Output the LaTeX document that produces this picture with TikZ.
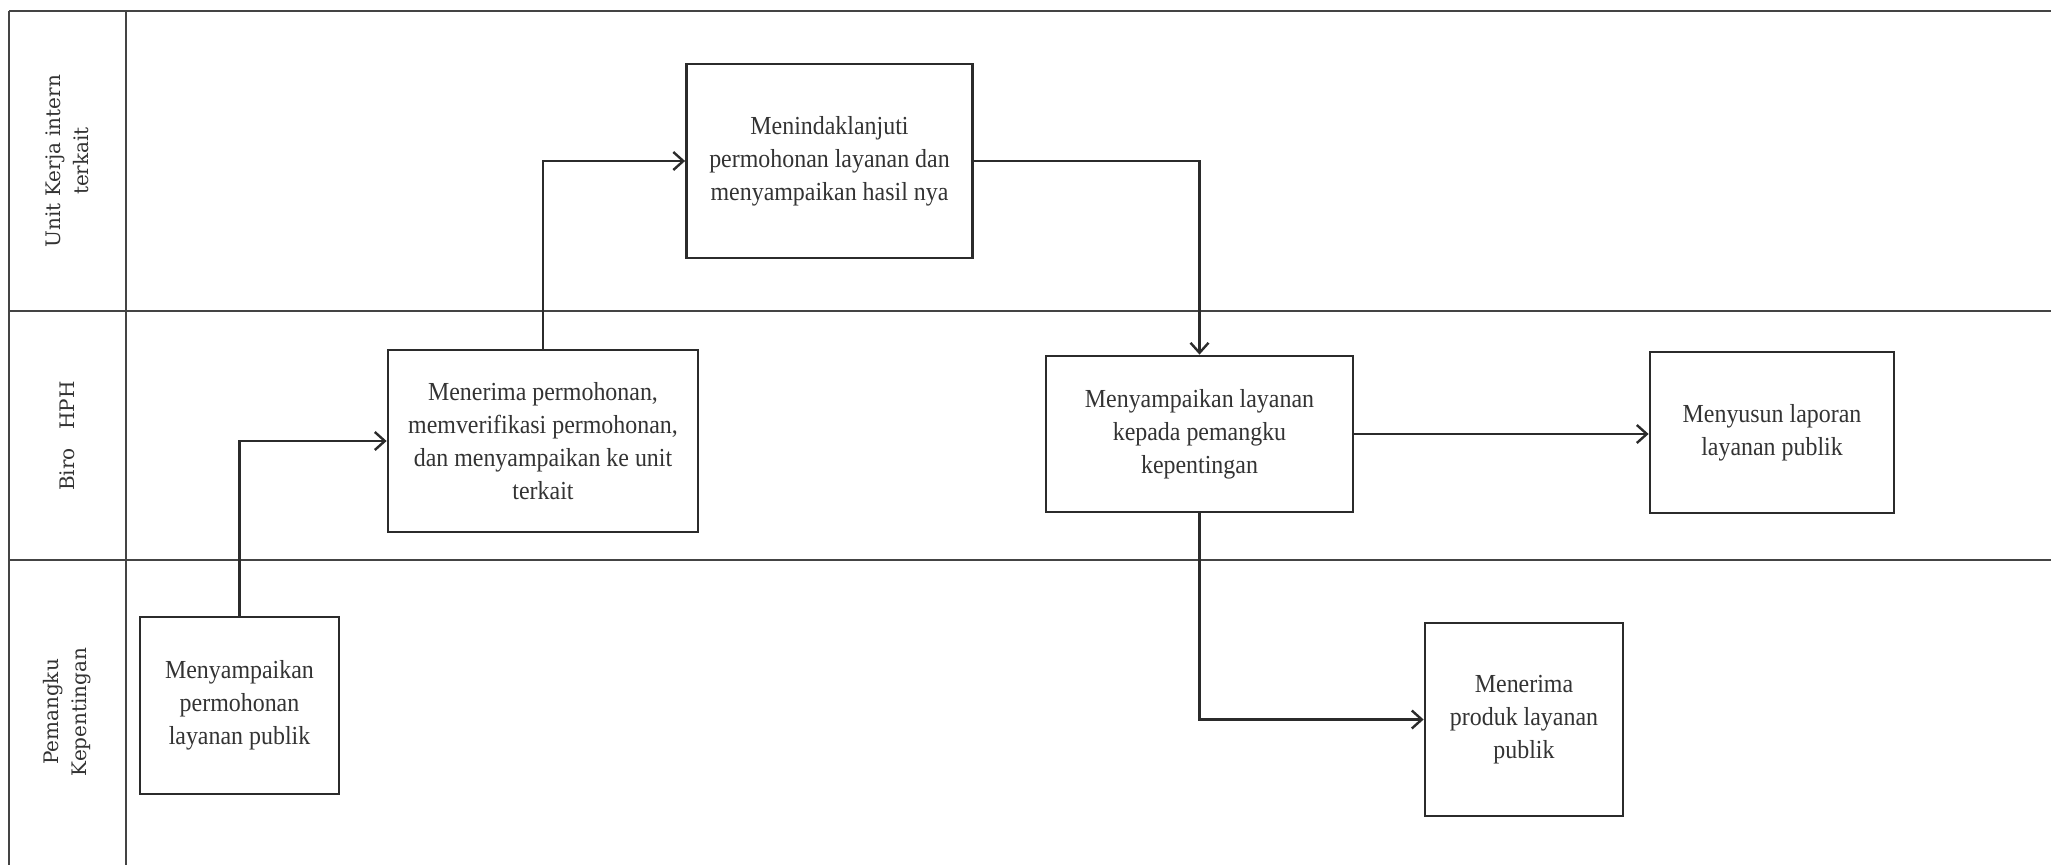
\documentclass[tikz,border=0pt]{standalone}
\usepackage{fontspec}
\setmainfont{Liberation Serif}
\newfontfamily\boxfont[FakeStretch=0.92]{Liberation Serif}
\newfontfamily\lanefont{DejaVu Serif}
\usetikzlibrary{arrows.meta}
\definecolor{linec}{HTML}{2B2B2B}
\definecolor{lanec}{HTML}{444444}
\definecolor{txtc}{HTML}{333333}
\begin{document}
\begin{tikzpicture}[x=1pt,y=-1pt,
  lane/.style={line width=2.6pt, draw=lanec},
  stepbox/.style={draw=linec, line width=2.8pt, fill=white, align=center, inner sep=0pt, text=txtc, font=\boxfont\fontsize{26}{33}\selectfont},
  flow/.style={draw=linec, line width=2.6pt, -{Straight Barb[length=10pt,width=18pt,line width=2.4pt]}},
  lanelabel/.style={rotate=90, align=center, text=txtc, font=\lanefont\fontsize{20}{28}\selectfont}]
\useasboundingbox (0,0) rectangle (2051,865);
\fill[white] (0,0) rectangle (2051,865);
% lanes
\draw[lane] (9,11) -- (2051,11);
\draw[lane] (9,311) -- (2051,311);
\draw[lane] (9,560) -- (2051,560);
\draw[lane] (9,11) -- (9,865);
\draw[lane] (126,11) -- (126,865);
% lane labels
\node[lanelabel] (l1) at (67.5,161) {Unit Kerja intern\\terkait};
\node[lanelabel] (l2) at (67.5,436) {Biro\hspace{0.6em} HPH};
\node[lanelabel] (l3) at (67.5,712) {Pemangku\\Kepentingan};
% steps
\node[stepbox, minimum width=199pt, minimum height=177pt] (b1) at (239.5,705.5) {Menyampaikan\\permohonan\\layanan publik};
\node[stepbox, minimum width=310pt, minimum height=182pt] (b2) at (543,441) {Menerima permohonan,\\memverifikasi permohonan,\\dan menyampaikan ke unit\\terkait};
\node[stepbox, minimum width=286pt, minimum height=194pt] (b3) at (829.5,161) {Menindaklanjuti\\permohonan layanan dan\\menyampaikan hasil nya};
\node[stepbox, minimum width=307pt, minimum height=156pt] (b4) at (1199.5,434) {Menyampaikan layanan\\kepada pemangku\\kepentingan};
\node[stepbox, minimum width=244pt, minimum height=161pt] (b5) at (1772,432.5) {Menyusun laporan\\layanan publik};
\node[stepbox, minimum width=198pt, minimum height=193pt] (b6) at (1524,719.5) {Menerima\\produk layanan\\publik};
% connectors
\draw[flow] (b1.north) |- (b2.west);
\draw[flow] (b2.north) |- (b3.west);
\draw[flow] (b3.east) -| (b4.north);
\draw[flow] (b4.east) -- (b4.east -| b5.west);
\draw[flow] (b4.south) |- (b6.west);
\end{tikzpicture}
\end{document}
